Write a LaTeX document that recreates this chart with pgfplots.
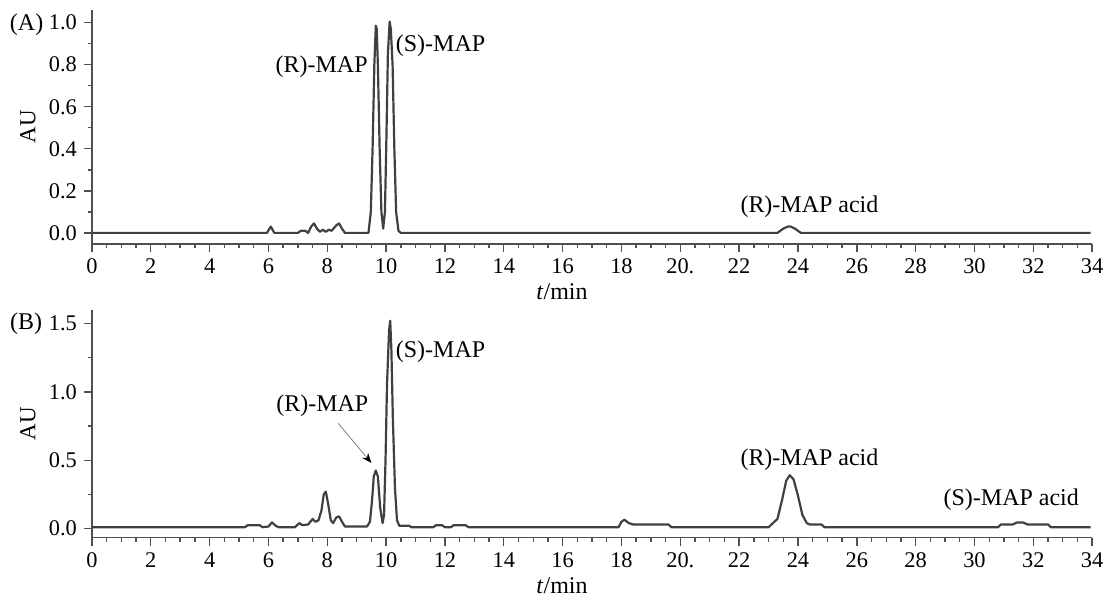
\documentclass[border=0pt]{standalone}
\usepackage{fontspec}
\setmainfont{Liberation Serif}
\usepackage{pgfplots}
\pgfplotsset{compat=1.18}
\usetikzlibrary{arrows.meta}

\definecolor{trace}{HTML}{404040}
\definecolor{axisgray}{HTML}{505050}

\tikzset{lbl/.style={font=\fontsize{12}{14}\selectfont, inner sep=0pt}}

\pgfplotsset{
  chrom/.style={
    scale only axis,
    width=500.5pt,
    xmin=0, xmax=34,
    axis lines=left,
    axis line style={-, draw=axisgray, line width=0.9pt},
    tick align=outside,
    tick style={draw=axisgray, line width=0.7pt},
    major tick length=4pt,
    minor tick length=2.2pt,
    xtick={0,2,...,34},
    xticklabels={0,2,4,6,8,10,12,14,16,18,20.,22,24,26,28,30,32,34},
    minor x tick num=3,
    minor y tick num=1,
    ticklabel style={font=\fontsize{11.2}{13}\selectfont},
    yticklabel style={/pgf/number format/.cd, fixed, fixed zerofill, precision=1, assume math mode=true},
    xlabel={\textit{t}/min},
    xlabel style={font=\fontsize{12}{14}\selectfont, at={(axis description cs:0.47,0)}, anchor=north, yshift=-16.5pt},
    ylabel={AU},
    ylabel style={font=\fontsize{11.5}{14}\selectfont, at={(axis description cs:-0.064,0.5)}, anchor=center},
    clip=false,
  },
  trc/.style={draw=trace, line width=1.1pt, mark=none, line join=round},
}

\begin{document}
\begin{tikzpicture}
% panel (A)
\begin{axis}[chrom, height=117pt, ymin=-0.052, ymax=1.06, ytick={0,0.2,...,1.0}]
\addplot[trc] coordinates {
 (0,0) (5.95,0) (6.08,0.03) (6.2,0) (7.0,0) (7.1,0.01) (7.25,0.01) (7.35,0)
 (7.45,0.03) (7.55,0.045) (7.65,0.02) (7.75,0.005) (7.85,0.015) (7.95,0.005)
 (8.05,0.015) (8.15,0.01) (8.3,0.035) (8.4,0.045) (8.5,0.02) (8.6,0) (9.4,0)
 (9.48,0.1) (9.54,0.4) (9.6,0.8) (9.65,0.985) (9.68,0.97) (9.72,0.8) (9.78,0.4)
 (9.84,0.1) (9.9,0.02) (9.96,0.1) (10.01,0.45) (10.06,0.85) (10.12,1.005)
 (10.16,0.97) (10.22,0.8) (10.28,0.4) (10.34,0.1) (10.42,0.01) (10.5,0)
 (23.3,0) (23.5,0.02) (23.65,0.03) (23.75,0.03) (23.9,0.02) (24.1,0) (33.95,0)
};
\node[lbl] at (axis cs:7.81,0.79) {(R)-MAP};
\node[lbl] at (axis cs:11.85,0.89) {(S)-MAP};
\node[lbl] at (axis cs:24.39,0.123) {(R)-MAP acid};
\node[lbl] at (axis cs:-2.22,0.988) {(A)};
\end{axis}
% panel (B)
\begin{axis}[chrom, at={(0,-147pt)}, height=114pt, ymin=-0.066, ymax=1.6, ytick={0,0.5,1.0,1.5}]
\addplot[trc] coordinates {
 (0,0.01) (5.2,0.01) (5.3,0.025) (5.7,0.025) (5.8,0.01) (6.0,0.015) (6.12,0.045)
 (6.25,0.02) (6.35,0.01) (6.9,0.01) (7.05,0.04) (7.15,0.025) (7.35,0.03)
 (7.5,0.07) (7.6,0.05) (7.7,0.06) (7.8,0.13) (7.88,0.25) (7.95,0.27) (8.03,0.18)
 (8.12,0.06) (8.2,0.04) (8.3,0.08) (8.4,0.09) (8.5,0.05) (8.6,0.015) (9.35,0.015)
 (9.45,0.05) (9.52,0.2) (9.58,0.38) (9.65,0.425) (9.72,0.38) (9.8,0.15)
 (9.88,0.04) (9.93,0.1) (9.98,0.5) (10.03,1.05) (10.1,1.45) (10.14,1.52)
 (10.18,1.3) (10.23,0.8) (10.3,0.3) (10.37,0.06) (10.45,0.02) (10.8,0.02)
 (10.85,0.01) (11.6,0.01) (11.7,0.025) (11.9,0.025) (12.0,0.01) (12.2,0.01)
 (12.3,0.025) (12.7,0.025) (12.8,0.01) (17.9,0.01) (18.0,0.05) (18.1,0.065)
 (18.25,0.04) (18.4,0.03) (19.6,0.03) (19.7,0.01) (23.0,0.01) (23.1,0.03)
 (23.3,0.07) (23.45,0.2) (23.6,0.35) (23.72,0.39) (23.85,0.36) (24.0,0.24)
 (24.15,0.1) (24.3,0.04) (24.4,0.03) (24.8,0.03) (24.9,0.01) (30.8,0.01)
 (30.9,0.03) (31.3,0.03) (31.45,0.045) (31.65,0.045) (31.8,0.03) (32.5,0.03)
 (32.6,0.01) (33.95,0.01)
};
\node[lbl] at (axis cs:7.83,0.9) {(R)-MAP};
\node[lbl] at (axis cs:11.85,1.29) {(S)-MAP};
\node[lbl] at (axis cs:24.39,0.5) {(R)-MAP acid};
\node[lbl] at (axis cs:31.25,0.21) {(S)-MAP acid};
\node[lbl] at (axis cs:-2.24,1.5) {(B)};
\draw[draw=gray, line width=0.4pt, -{Stealth[color=black, length=5pt, width=4pt]}]
  (axis cs:8.37,0.77) -- (axis cs:9.5,0.48);
\end{axis}
\path (-46pt,-174.5pt) rectangle (509pt,122pt);
\end{tikzpicture}
\end{document}
